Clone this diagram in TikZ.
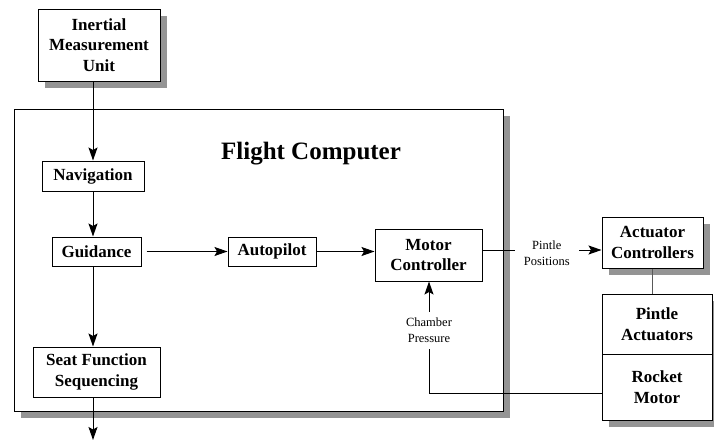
\documentclass[tikz,border=0pt]{standalone}
\usepackage{fontspec}
\setmainfont{Liberation Serif}
\usetikzlibrary{arrows.meta,shadows}
\begin{document}
\begin{tikzpicture}[x=1pt,y=-1pt,
  every node/.style={inner sep=0pt, align=center},
  blk/.style={draw=black, line width=1pt, fill=white, font=\fontsize{17}{20.5}\selectfont\bfseries},
  shd/.style={drop shadow={shadow xshift=7pt, shadow yshift=-7pt, fill=black!42, opacity=1}},
  lbl/.style={fill=white, font=\fontsize{12.5}{16}\selectfont},
  arr/.style={line width=1pt, -{Stealth[length=13pt,width=9pt,inset=2.5pt]}},
  ln/.style={line width=1pt}
]
\useasboundingbox (0,0) rectangle (714,442);
% flight computer container
\node[blk, shd, minimum width=489pt, minimum height=302pt] (fc) at (258.5,260) {};
\node[font=\fontsize{25}{30}\selectfont\bfseries] (title) at (311,154) {Flight Computer};
% blocks
\node[blk, shd, minimum width=122pt, minimum height=72pt] (imu) at (99,45) {Inertial\\Measurement\\Unit};
\node[blk, minimum width=102pt, minimum height=30pt] (nav) at (93,176) {Navigation};
\node[blk, minimum width=89pt, minimum height=29pt] (guid) at (96.5,251.5) {Guidance};
\node[blk, minimum width=88pt, minimum height=29pt] (auto) at (272,251.5) {Autopilot};
\node[blk, minimum width=107pt, minimum height=52pt] (motor) at (428.5,255) {Motor\\Controller};
\node[blk, minimum width=127pt, minimum height=50pt] (seat) at (96.5,372) {Seat Function\\Sequencing};
\node[blk, shd, minimum width=101pt, minimum height=51pt] (act) at (652.5,242.5) {Actuator\\Controllers};
\node[blk, shd, minimum width=110pt, minimum height=60pt] (pint) at (657,324) {Pintle\\Actuators};
\node[blk, shd, minimum width=110pt, minimum height=66pt] (rock) at (657,387) {Rocket\\Motor};
\coordinate (out) at (93,440);
\coordinate (cp) at (429,393);
% connectors
\draw[arr] (nav.north |- imu.south) -- (nav.north);
\draw[arr] (nav.south) -- (nav.south |- guid.north);
\draw[arr] (nav.south |- guid.south) -- (nav.south |- seat.north);
\draw[arr] (nav.south |- seat.south) -- (out);
\draw[arr, shorten <=5pt] (guid.east) -- (auto.west);
\draw[arr] (auto.east) -- (motor.west |- auto.east);
\draw[arr] ([yshift=5pt]motor.east) coordinate (m1) -- node[lbl, pos=0.54, inner xsep=9pt, inner ysep=2pt, yshift=-3pt] (pp) {Pintle\\Positions} (act.west |- m1);
\draw[ln, black!65] (act.south) -- (act.south |- pint.north);
\draw[arr] (rock.west |- cp) -- (cp) -- node[lbl, pos=0.5625, inner ysep=6pt, inner xsep=2pt] (chp) {Chamber\\Pressure} (motor.south -| cp);
\end{tikzpicture}
\end{document}
